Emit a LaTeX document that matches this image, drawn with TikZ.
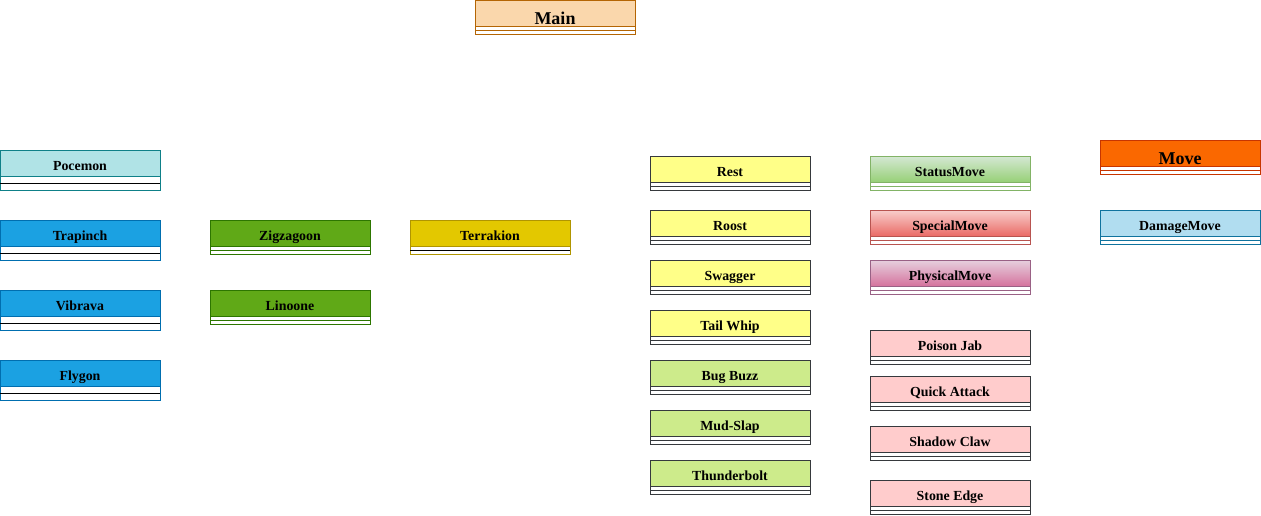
\documentclass[tikz,border=0pt]{standalone}
\usepackage{fontspec}
\setmainfont{Liberation Serif}
\usepackage{xcolor}
\usepackage{tikz}
\usetikzlibrary{positioning}
\definecolor{peach}{HTML}{FAD7AC}
\definecolor{peachline}{HTML}{B46504}
\definecolor{teal}{HTML}{B0E3E6}
\definecolor{tealline}{HTML}{0E8088}
\definecolor{blue}{HTML}{1BA1E2}
\definecolor{blueline}{HTML}{006EAF}
\definecolor{green}{HTML}{60A917}
\definecolor{greenline}{HTML}{2D7600}
\definecolor{gold}{HTML}{E3C800}
\definecolor{goldline}{HTML}{B09500}
\definecolor{yellow}{HTML}{FFFF88}
\definecolor{lime}{HTML}{CDEB8B}
\definecolor{darkline}{HTML}{36393D}
\definecolor{pink}{HTML}{FFCCCC}
\definecolor{statustop}{HTML}{D5E8D4}
\definecolor{statusbot}{HTML}{97D077}
\definecolor{statusline}{HTML}{82B366}
\definecolor{specialtop}{HTML}{F8CECC}
\definecolor{specialbot}{HTML}{EA6B66}
\definecolor{specialline}{HTML}{B85450}
\definecolor{physicaltop}{HTML}{E6D0DE}
\definecolor{physicalbot}{HTML}{D5739D}
\definecolor{physicalline}{HTML}{996185}
\definecolor{orange}{HTML}{FA6800}
\definecolor{orangeline}{HTML}{C73500}
\definecolor{sky}{HTML}{B1DDF0}
\definecolor{skyline}{HTML}{10739E}

\begin{document}
\begin{tikzpicture}[x=0.75pt,y=-0.75pt,line width=0.75pt,
    head/.style={rectangle,inner sep=0pt,outer sep=0pt,minimum width=120pt,
      minimum height=19.5pt,text height=11.25pt,text depth=0pt,
      font=\fontsize{10.4}{12}\selectfont\bfseries},
    bighead/.style={head,text height=16.5pt,font=\fontsize{13.5}{16}\selectfont\bfseries},
    peachhead/.style={fill=peach,draw=peachline},
    tealhead/.style={fill=teal,draw=tealline},
    bluehead/.style={fill=blue,draw=blueline},
    greenhead/.style={fill=green,draw=greenline},
    goldhead/.style={fill=gold,draw=goldline},
    yellowhead/.style={fill=yellow,draw=darkline},
    limehead/.style={fill=lime,draw=darkline},
    pinkhead/.style={fill=pink,draw=darkline},
    statushead/.style={top color=statustop,bottom color=statusbot,draw=statusline},
    specialhead/.style={top color=specialtop,bottom color=specialbot,draw=specialline},
    physicalhead/.style={top color=physicaltop,bottom color=physicalbot,draw=physicalline},
    orangehead/.style={fill=orange,draw=orangeline},
    skyhead/.style={fill=sky,draw=skyline}]
  \useasboundingbox (0,0) rectangle (1261,515);

  \path
  (555,13) node[bighead,peachhead](main) {Main}
  (80,163) node[head,tealhead](pocemon) {Pocemon}
  (80,233) node[head,bluehead](trapinch) {Trapinch}
  (80,303) node[head,bluehead](vibrava) {Vibrava}
  (80,373) node[head,bluehead](flygon) {Flygon}
  (290,233) node[head,greenhead](zigzagoon) {Zigzagoon}
  (290,303) node[head,greenhead](linoone) {Linoone}
  (490,233) node[head,goldhead](terrakion) {Terrakion}
  (730,169) node[head,yellowhead](rest) {Rest}
  (730,223) node[head,yellowhead](roost) {Roost}
  (730,273) node[head,yellowhead](swagger) {Swagger}
  (730,323) node[head,yellowhead](tailwhip) {Tail Whip}
  (730,373) node[head,limehead](bugbuzz) {Bug Buzz}
  (730,423) node[head,limehead](mudslap) {Mud-Slap}
  (730,473) node[head,limehead](thunderbolt) {Thunderbolt}
  (950,169) node[head,statushead](statusmove) {StatusMove}
  (950,223) node[head,specialhead](specialmove) {SpecialMove}
  (950,273) node[head,physicalhead](physicalmove) {PhysicalMove}
  (950,343) node[head,pinkhead](poisonjab) {Poison Jab}
  (950,389) node[head,pinkhead](quickattack) {Quick Attack}
  (950,439) node[head,pinkhead](shadowclaw) {Shadow Claw}
  (950,493) node[head,pinkhead](stoneedge) {Stone Edge}
  (1180,153) node[bighead,orangehead](move) {Move}
  (1180,223) node[head,skyhead](damagemove) {DamageMove}
  ;

  % attribute and method compartments under each class
  \foreach \n/\c/\m/\h in {main/peachline/peachline/4, pocemon/tealline/black/7,
      trapinch/blueline/black/7, vibrava/blueline/black/7, flygon/blueline/black/7,
      zigzagoon/greenline/greenline/4, linoone/greenline/greenline/4,
      terrakion/goldline/black/4, rest/darkline/darkline/4, roost/darkline/darkline/4,
      swagger/darkline/darkline/4, tailwhip/darkline/darkline/4,
      bugbuzz/darkline/darkline/4, mudslap/darkline/darkline/4,
      thunderbolt/darkline/darkline/4, statusmove/statusline/statusline/4,
      specialmove/specialline/specialline/4, physicalmove/physicalline/physicalline/4,
      poisonjab/darkline/darkline/4, quickattack/darkline/darkline/4,
      shadowclaw/darkline/darkline/4, stoneedge/darkline/darkline/4,
      move/orangeline/orangeline/4, damagemove/skyline/skyline/4}
  {
    \draw[\c,fill=white] (\n.south west) rectangle ++(160,2*\h);
    \draw[\m] (\n.south west) ++(0,\h) -- ++(160,0);
  }
\end{tikzpicture}
\end{document}
